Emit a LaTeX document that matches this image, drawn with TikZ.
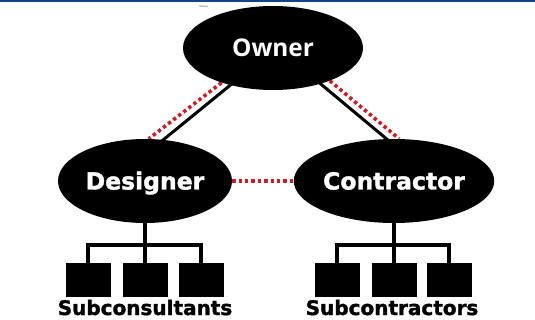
\documentclass[tikz,border=0pt]{standalone}
\usepackage{fontspec}
\usetikzlibrary{shapes.geometric,backgrounds}
\newfontfamily\heavy{DejaVu Sans Bold}[FakeBold=1.6]
\newfontfamily\ownerfont{Open Sans}
\definecolor{barblue}{RGB}{18,68,140}
\definecolor{linkred}{RGB}{200,30,40}
\tikzset{
  party/.style={ellipse, fill=black, text=white, inner sep=0pt,
    minimum width=174pt, minimum height=84pt, text height=17pt, text depth=0pt},
  subbox/.style={fill=black, minimum width=45pt, minimum height=34pt, inner sep=0pt},
  contract/.style={line width=3pt, black},
  comm/.style={line width=3.6pt, linkred, dash pattern=on 3.4pt off 3pt},
  tree/.style={line width=3.4pt, black},
  sublabel/.style={anchor=base, inner sep=0pt, font=\heavy\fontsize{20}{22}\selectfont}
}
\begin{document}
\begin{tikzpicture}[x=1pt, y=-1pt]
  \useasboundingbox (0,0) rectangle (535,320);
  % top rule
  \fill[barblue] (0,0) rectangle (535,2.5);
  \draw[gray!55, line width=1.3pt] (199,6) -- (208,6.5);

  % parties
  \node[party, minimum width=180pt, font=\ownerfont\bfseries\fontsize{24.4}{26}\selectfont] (owner) at (273,48) {Owner};
  \node[party, font=\heavy\fontsize{23.5}{25}\selectfont] (designer) at (145,181) {Designer};
  \node[party, font=\heavy\fontsize{23.5}{25}\selectfont] (contractor) at (394,181) {Contractor};

  \begin{scope}[on background layer]
    % contractual links
    \draw[contract, shorten <=-2pt, shorten >=-2pt] (owner.221) -- (designer.66);
    \draw[contract, shorten <=-2pt, shorten >=-2pt] (owner.323) -- (contractor.100);
    % communication links
    \draw[comm] (owner.214) -- (designer.85);
    \draw[comm] (owner.330) -- (contractor.83);
    \draw[comm] (designer.east) -- (contractor.west);
  \end{scope}

  % subconsultants
  \node[subbox] (d1) at (88,280) {};
  \node[subbox] (d2) at (145,280) {};
  \node[subbox] (d3) at (201,280) {};
  \coordinate (dbar) at (145,245);
  \draw[tree] (designer.south) -- (d2.north);
  \draw[tree] (d1.north) |- (dbar) -| (d3.north);
  \node[sublabel] (subcons) at (145,315) {Subconsultants};

  % subcontractors
  \node[subbox] (c1) at (337,280) {};
  \node[subbox] (c2) at (394,280) {};
  \node[subbox] (c3) at (449,280) {};
  \coordinate (cbar) at (394,245);
  \draw[tree] (contractor.south) -- (c2.north);
  \draw[tree] (c1.north) |- (cbar) -| (c3.north);
  \node[sublabel] (subcontr) at (392,315) {Subcontractors};
\end{tikzpicture}
\end{document}
